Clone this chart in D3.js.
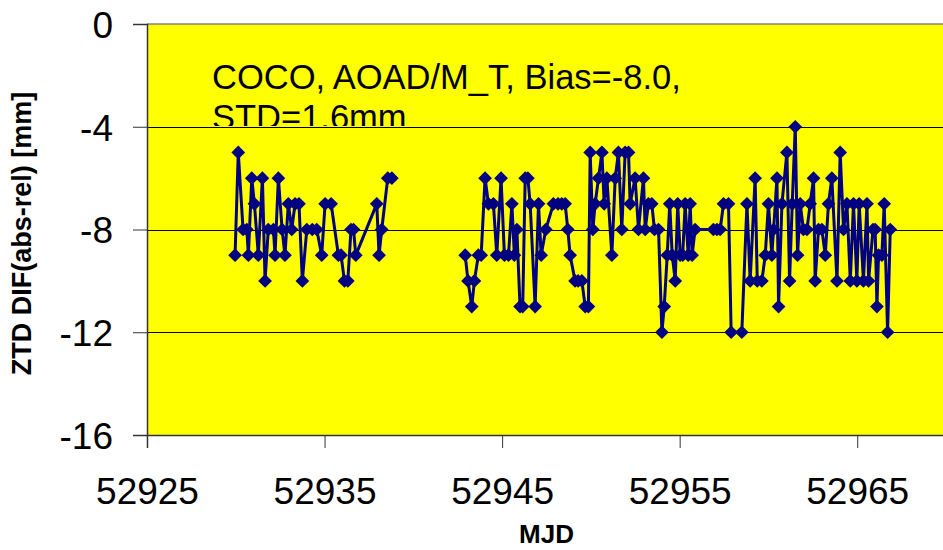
<!DOCTYPE html>
<html>
<head>
<meta charset="utf-8">
<script src="https://cdn.jsdelivr.net/npm/d3@7"></script>
<style>
  html, body { margin: 0; padding: 0; background: #fff; }
  svg { display: block; font-family: "Liberation Sans", Arial, sans-serif; }
</style>
</head>
<body>
<svg id="chart" width="943" height="550"></svg>
<script>
// Epoch (MJD) of each ZTD difference sample; null value marks the data gap
const mjd = [
  52929.96, 52930.14, 52930.41, 52930.62, 52930.71, 52930.90, 52931.05, 52931.27, 52931.50, 52931.65,
  52931.83, 52932.12, 52932.21, 52932.40, 52932.61, 52932.77, 52932.96, 52933.15, 52933.34, 52933.56,
  52933.75, 52934.00, 52934.31, 52934.56, 52934.84, 52935.03, 52935.37, 52935.78, 52935.93, 52936.12,
  52936.31, 52936.49, 52936.63, 52936.76, 52937.94, 52938.07, 52938.22, 52938.56, 52938.79,
  52940.80,
  52942.92, 52943.08, 52943.29, 52943.44, 52943.66, 52943.82, 52944.04, 52944.23, 52944.51, 52944.70,
  52944.94, 52945.13, 52945.36, 52945.55, 52945.69, 52945.83, 52946.01, 52946.16, 52946.30, 52946.45,
  52946.58, 52946.86, 52947.05, 52947.20, 52947.46, 52947.89, 52948.15, 52948.36, 52948.55, 52948.70,
  52948.83, 52949.11, 52949.28, 52949.49, 52949.68, 52949.86, 52949.96, 52950.11, 52950.24, 52950.43,
  52950.62, 52950.75, 52950.90, 52951.18, 52951.37, 52951.55, 52951.74, 52951.93, 52952.12, 52952.21,
  52952.49, 52952.68, 52952.96, 52953.06, 52953.24, 52953.43, 52953.58, 52953.81, 52954.00, 52954.13,
  52954.30, 52954.44, 52954.58, 52954.75, 52954.89, 52955.03, 52955.17, 52955.31, 52955.48, 52955.59,
  52955.70, 52955.87, 52956.90, 52957.10, 52957.28, 52957.47, 52957.75, 52957.90, 52958.50, 52958.79,
  52958.97, 52959.25, 52959.37, 52959.63, 52959.82, 52960.00, 52960.19, 52960.29, 52960.48, 52960.57,
  52960.76, 52961.04, 52961.19, 52961.34, 52961.51, 52961.64, 52961.79, 52961.97, 52962.17, 52962.35,
  52962.54, 52962.63, 52962.82, 52963.01, 52963.20, 52963.38, 52963.57, 52963.86, 52964.04, 52964.23,
  52964.42, 52964.61, 52964.79, 52964.98, 52965.11, 52965.35, 52965.55, 52965.64, 52965.89, 52966.01,
  52966.11, 52966.20, 52966.39, 52966.52, 52966.71, 52966.86
];
// ZTD difference absolute minus relative [mm]
const ztdDif = [
  -9, -5, -8, -8, -9, -6, -7, -9, -6, -10,
  -8, -8, -9, -6, -8, -9, -7, -8, -7, -7,
  -10, -8, -8, -8, -9, -7, -7, -9, -9, -10,
  -10, -8, -8, -9, -7, -9, -8, -6, -6,
  null,
  -9, -10, -11, -10, -9, -9, -6, -7, -7, -9,
  -6, -9, -9, -7, -9, -8, -11, -11, -6, -6,
  -7, -11, -7, -9, -8, -7, -7, -7, -7, -8,
  -9, -10, -10, -10, -11, -11, -5, -8, -7, -6,
  -5, -7, -6, -9, -6, -5, -8, -5, -5, -7,
  -6, -8, -6, -8, -7, -7, -8, -8, -12, -11,
  -9, -7, -9, -10, -7, -9, -9, -7, -9, -7,
  -9, -8, -8, -8, -8, -7, -7, -12, -12, -7,
  -10, -6, -10, -10, -9, -7, -9, -8, -6, -11,
  -7, -5, -10, -7, -4, -9, -7, -8, -8, -7,
  -6, -10, -8, -8, -9, -7, -6, -10, -5, -8,
  -7, -10, -7, -10, -7, -10, -7, -10, -8, -8,
  -11, -9, -9, -7, -12, -8
];
const xTicks = [52925, 52935, 52945, 52955, 52965];
const yTicks = [0, -4, -8, -12, -16];
const gridValues = [-4, -8, -12];
const noteLines = ["COCO, AOAD/M_T, Bias=-8.0,", "STD=1.6mm"];

const svg = d3.select("#chart");
const plot = { left: 147, right: 946, top: 24, bottom: 435 };

const x = d3.scaleLinear().domain([52925, 52970]).range([plot.left, plot.right]);
const y = d3.scaleLinear().domain([-16, 0]).range([plot.bottom, plot.top]);

const points = mjd.map((m, i) => ({ m, v: ztdDif[i] }));

// plot area background
svg.append("rect")
  .attr("x", plot.left).attr("y", plot.top)
  .attr("width", plot.right - plot.left).attr("height", plot.bottom - plot.top)
  .attr("fill", "#ffff00");

// top border
svg.append("line")
  .attr("x1", plot.left).attr("x2", plot.right)
  .attr("y1", y(0)).attr("y2", y(0))
  .attr("stroke", "#808080").attr("stroke-width", 1.5);

// horizontal gridlines
svg.append("g").selectAll("line").data(gridValues).join("line")
  .attr("x1", plot.left).attr("x2", plot.right)
  .attr("y1", d => Math.round(y(d)) + 0.5).attr("y2", d => Math.round(y(d)) + 0.5)
  .attr("stroke", "#000").attr("stroke-width", 1);

// annotation text, clipped to its box
svg.append("clipPath").attr("id", "noteClip")
  .append("rect").attr("x", 200).attr("y", 50).attr("width", 520).attr("height", 76);
const note = svg.append("text")
  .attr("clip-path", "url(#noteClip)")
  .attr("font-size", 34.5).attr("fill", "#000");
note.selectAll("tspan").data(noteLines).join("tspan")
  .attr("x", 212).attr("y", (d, i) => 89 + i * 40)
  .text(d => d);

// y axis
const yAxis = svg.append("g")
  .attr("transform", `translate(${plot.left},0)`)
  .call(d3.axisLeft(y).tickValues(yTicks).tickFormat(d3.format("d")).tickSize(14).tickPadding(20));
yAxis.select(".domain").attr("stroke", "#333").attr("stroke-width", 1.5);
yAxis.selectAll(".tick line").attr("stroke", "#333");
yAxis.selectAll(".tick text")
  .attr("font-size", 37).attr("font-family", "'Liberation Sans', Arial, sans-serif")
  .attr("fill", "#000").attr("dy", "0.36em")
  .text(d => d === 0 ? "0" : "-" + Math.abs(d));

// x axis
const xAxis = svg.append("g")
  .attr("transform", `translate(0,${plot.bottom})`)
  .call(d3.axisBottom(x).tickValues(xTicks).tickFormat(d3.format("d")).tickSize(13).tickPadding(30));
xAxis.select(".domain").attr("stroke", "#333").attr("stroke-width", 1.5);
xAxis.selectAll(".tick line").attr("stroke", "#333");
xAxis.selectAll(".tick text")
  .attr("font-size", 37).attr("font-family", "'Liberation Sans', Arial, sans-serif")
  .attr("fill", "#000");

// series line
const line = d3.line()
  .defined(d => d.v !== null)
  .x(d => x(d.m)).y(d => y(d.v));
svg.append("path")
  .datum(points)
  .attr("d", line)
  .attr("fill", "none")
  .attr("stroke", "#000080")
  .attr("stroke-width", 3)
  .attr("stroke-linejoin", "round");

// diamond markers
const diamond = d3.symbol().type(d3.symbolDiamond2).size(120);
svg.append("g").selectAll("path")
  .data(points.filter(d => d.v !== null))
  .join("path")
  .attr("d", diamond)
  .attr("transform", d => `translate(${x(d.m)},${y(d.v)})`)
  .attr("fill", "#000080");

// axis titles
svg.append("text")
  .attr("x", (plot.left + plot.right) / 2).attr("y", 543)
  .attr("text-anchor", "middle")
  .attr("font-size", 26).attr("font-weight", "bold")
  .text("MJD");
svg.append("text")
  .attr("transform", `translate(31,${(plot.top + plot.bottom) / 2 + 4}) rotate(-90)`)
  .attr("text-anchor", "middle")
  .attr("font-size", 27).attr("font-weight", "bold")
  .text("ZTD DIF(abs-rel) [mm]");
</script>
</body>
</html>
